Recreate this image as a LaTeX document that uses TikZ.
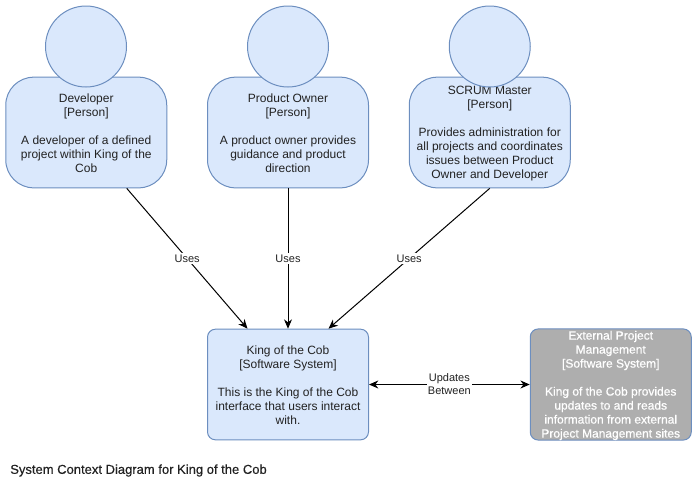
\documentclass[tikz,border=0pt]{standalone}
\usepackage{fontspec}
\setmainfont{Liberation Sans}
\newfontfamily\emboldfont[BoldFont=Liberation Sans,BoldFeatures={FakeBold=0.6}]{Liberation Sans}
\newfontfamily\captionfont[BoldFont=Liberation Sans,BoldFeatures={FakeBold=0.4}]{Liberation Sans}
\usetikzlibrary{arrows.meta,calc}
\definecolor{boxfill}{HTML}{DAE8FC}
\definecolor{boxline}{HTML}{6C8EBF}
\definecolor{extfill}{HTML}{AEAEAE}
\definecolor{inktext}{HTML}{222222}
\newcommand{\lowertext}{\rule{0pt}{8pt}}
\tikzset{
  cbody/.style={draw=boxline,fill=boxfill,line width=0.75pt,minimum width=120.75pt,minimum height=83pt,inner sep=0pt,align=center,text=inktext,
    font=\fontsize{9}{10.5}\selectfont},
  personbody/.style={cbody,rounded corners=21pt},
  personhead/.style={draw=boxline,fill=boxfill,line width=0.75pt,circle,minimum size=60.75pt,inner sep=0pt},
  softbox/.style={cbody,rounded corners=6pt},
  extbox/.style={cbody,rounded corners=6pt,fill=extfill,text=white,font=\fontsize{9}{10.5}\selectfont\emboldfont\bfseries},
  conn/.style={draw=black,line width=0.75pt,-{Stealth[length=7pt,width=6pt]}},
  biconn/.style={draw=black,line width=0.75pt,{Stealth[length=7pt,width=6pt]}-{Stealth[length=7pt,width=6pt]}},
  edgetext/.style={fill=white,inner sep=1pt,align=center,text=inktext,font=\fontsize{8.25}{9.75}\selectfont},
  titletext/.style={anchor=west,inner sep=0pt,text=inktext,font=\fontsize{9.75}{11}\selectfont\captionfont\bfseries}
}
\begin{document}
\begin{tikzpicture}[x=0.75pt,y=-0.75pt]
\useasboundingbox (0,0) rectangle (697,487);
\node[personbody] (dev) at (86.25,132.5) {\lowertext Developer\\ {[Person]}\\ \strut\\ A developer of a defined\\ project within King of the\\ Cob};
\node[personhead] (devh) at (86,46.5) {};
\node[personbody] (po) at (288,132.5) {\lowertext Product Owner\\ {[Person]}\\ \strut\\ A product owner provides\\ guidance and product\\ direction};
\node[personhead] (poh) at (288,46.5) {};
\node[personbody] (sm) at (489.75,132.5) {\lowertext SCRUM Master\\ {[Person]}\\ \strut\\ Provides administration for\\ all projects and coordinates\\ issues between Product\\ Owner and Developer};
\node[personhead] (smh) at (489.75,46.5) {};
\node[softbox] (king) at (288,384.5) {\lowertext King of the Cob\\ {[Software System]}\\ \strut\\ This is the King of the Cob\\ interface that users interact\\ with.};
\node[extbox] (ext) at (610.75,384.5) {\lowertext External Project\\ Management\\ {[Software System]}\\ \strut\\ King of the Cob provides\\ updates to and reads\\ information from external\\ Project Management sites};
\draw[conn] ($(dev.south)!0.5!(dev.south east)$) -- node[edgetext,pos=0.5] {Uses} ($(king.north west)!0.5!(king.north)$);
\draw[conn] (po.south) -- node[edgetext,pos=0.5] {Uses} (king.north);
\draw[conn] (sm.south) -- node[edgetext,pos=0.5] {Uses} ($(king.north)!0.5!(king.north east)$);
\draw[biconn] (king.east) -- node[edgetext,pos=0.5] {Updates\\ Between} (ext.west);
\node[titletext] (caption) at (10,470.5) {System Context Diagram for King of the Cob};
\end{tikzpicture}
\end{document}
